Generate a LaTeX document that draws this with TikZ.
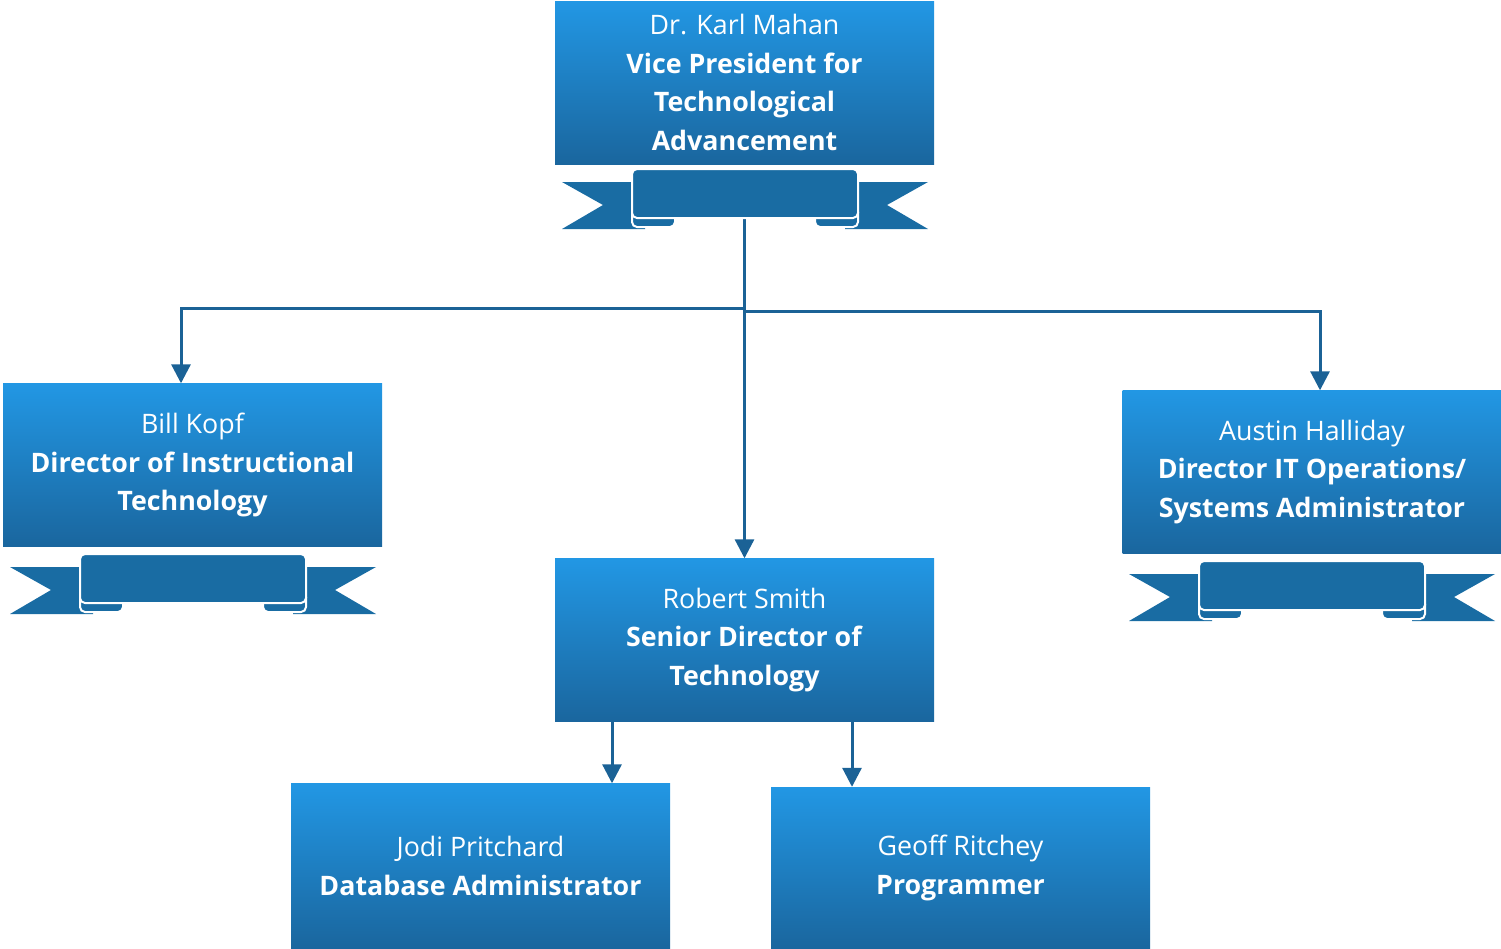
\documentclass[tikz,border=0pt]{standalone}
\usepackage{fontspec}
\setmainfont{Open Sans}
\usetikzlibrary{arrows.meta}
\pgfdeclarelayer{nodelayer}
\pgfdeclarelayer{edgelayer}
\pgfsetlayers{edgelayer,nodelayer,main}
\definecolor{boxtop}{RGB}{34,151,228}
\definecolor{boxbot}{RGB}{26,102,158}
\definecolor{bannerblue}{RGB}{25,108,163}
\definecolor{linkblue}{RGB}{27,98,150}
\tikzset{post/.style={inner sep=0pt, top color=boxtop, bottom color=boxbot,
minimum width=379pt, minimum height=163pt, text=white, align=center,
font=\fontsize{26.8}{38.5}\selectfont}}
\tikzset{link/.style={draw=linkblue, line width=3pt}}
\tikzset{into/.style={link, -{Triangle[width=19pt,length=19pt]}}}
\tikzset{banner/.pic={
\fill[bannerblue] (-183,13) -- (-100,13) -- (-100,60) -- (-183,60) -- (-142,36) -- cycle;
\fill[bannerblue] (183,13) -- (100,13) -- (100,60) -- (183,60) -- (142,36) -- cycle;
\draw[white, line width=2pt, fill=bannerblue, rounded corners=5pt] (-113,38) rectangle (-70,58);
\draw[white, line width=2pt, fill=bannerblue, rounded corners=5pt] (113,38) rectangle (70,58);
\draw[white, line width=2pt, fill=bannerblue, rounded corners=5pt] (-113,0) rectangle (113,49);
}}

\begin{document}
\begin{tikzpicture}[x=1pt, y=-1pt]
	\useasboundingbox (0,0) rectangle (1501,948);
	\begin{pgfonlayer}{nodelayer}
		\node [style=post] (0) at (744.5, 82.5) {Dr. Karl Mahan\\\textbf{Vice President for}\\\textbf{Technological}\\\textbf{Advancement}};
		\node [style=post] (1) at (192.5, 465) {Bill Kopf\\\textbf{Director of Instructional}\\\textbf{Technology}};
		\node [style=post] (2) at (744.5, 640) {Robert Smith\\\textbf{Senior Director of}\\\textbf{Technology}};
		\node [style=post] (3) at (1312, 472) {Austin Halliday\\\textbf{Director IT Operations/}\\\textbf{Systems Administrator}};
		\node [style=post, minimum height=165pt] (4) at (480.5, 866) {Jodi Pritchard\\\textbf{Database Administrator}};
		\node [style=post, minimum height=162pt] (5) at (960.5, 868) {Geoff Ritchey\\\textbf{Programmer}};
		\pic at (745, 169) {banner};
		\pic at (193, 554) {banner};
		\pic at (1312, 561) {banner};
		\coordinate (6) at (744.5, 308);
		\coordinate (7) at (744.5, 311);
		\coordinate (8) at (181, 0);
		\coordinate (9) at (1320, 0);
		\coordinate (10) at (612, 0);
		\coordinate (11) at (852, 0);
		\coordinate (12) at (744.5, 214);
	\end{pgfonlayer}
	\begin{pgfonlayer}{edgelayer}
		\draw [style=into] (12) to (2.north);
		\draw [style=into] (6) -| (8 |- 1.north);
		\draw [style=into] (7) -| (9 |- 3.north);
		\draw [style=into] (10 |- 2.south) to (10 |- 4.north);
		\draw [style=into] (11 |- 2.south) to (11 |- 5.north);
	\end{pgfonlayer}
\end{tikzpicture}
\end{document}
